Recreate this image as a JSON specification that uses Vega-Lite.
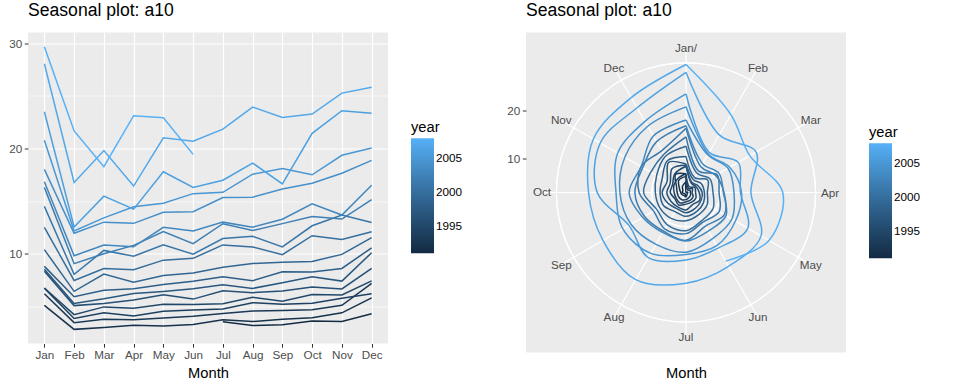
{
  "$schema": "https://vega.github.io/schema/vega-lite/v6.json",
  "autosize": {"type": "pad"},
  "padding": {"left": 8, "top": 1.5, "right": 0, "bottom": 0},
  "spacing": 43,
  "background": "white",
  "datasets": {
    "months": [
      {"m": 1, "lab": "Jan/"}, {"m": 2, "lab": "Feb"}, {"m": 3, "lab": "Mar"}, {"m": 4, "lab": "Apr"},
      {"m": 5, "lab": "May"}, {"m": 6, "lab": "Jun"}, {"m": 7, "lab": "Jul"}, {"m": 8, "lab": "Aug"},
      {"m": 9, "lab": "Sep"}, {"m": 10, "lab": "Oct"}, {"m": 11, "lab": "Nov"}, {"m": 12, "lab": "Dec"}
    ],
    "a10": [
      {"year":1991,"month":7,"value":3.527},{"year":1991,"month":8,"value":3.181},{"year":1991,"month":9,"value":3.252},{"year":1991,"month":10,"value":3.611},{"year":1991,"month":11,"value":3.566},{"year":1991,"month":12,"value":4.306},
      {"year":1992,"month":1,"value":5.088},{"year":1992,"month":2,"value":2.8145},{"year":1992,"month":3,"value":2.986},{"year":1992,"month":4,"value":3.205},{"year":1992,"month":5,"value":3.128},{"year":1992,"month":6,"value":3.271},{"year":1992,"month":7,"value":3.738},{"year":1992,"month":8,"value":3.559},{"year":1992,"month":9,"value":3.777},{"year":1992,"month":10,"value":3.924},{"year":1992,"month":11,"value":4.387},{"year":1992,"month":12,"value":5.811},
      {"year":1993,"month":1,"value":6.192},{"year":1993,"month":2,"value":3.451},{"year":1993,"month":3,"value":3.772},{"year":1993,"month":4,"value":3.734},{"year":1993,"month":5,"value":3.905},{"year":1993,"month":6,"value":4.050},{"year":1993,"month":7,"value":4.316},{"year":1993,"month":8,"value":4.562},{"year":1993,"month":9,"value":4.609},{"year":1993,"month":10,"value":4.668},{"year":1993,"month":11,"value":5.094},{"year":1993,"month":12,"value":7.180},
      {"year":1994,"month":1,"value":6.731},{"year":1994,"month":2,"value":3.841},{"year":1994,"month":3,"value":4.394},{"year":1994,"month":4,"value":4.075},{"year":1994,"month":5,"value":4.541},{"year":1994,"month":6,"value":4.646},{"year":1994,"month":7,"value":4.753},{"year":1994,"month":8,"value":5.351},{"year":1994,"month":9,"value":5.204},{"year":1994,"month":10,"value":5.302},{"year":1994,"month":11,"value":5.774},{"year":1994,"month":12,"value":6.205},
      {"year":1995,"month":1,"value":6.749},{"year":1995,"month":2,"value":4.216},{"year":1995,"month":3,"value":4.949},{"year":1995,"month":4,"value":4.823},{"year":1995,"month":5,"value":5.195},{"year":1995,"month":6,"value":5.171},{"year":1995,"month":7,"value":5.257},{"year":1995,"month":8,"value":5.855},{"year":1995,"month":9,"value":5.491},{"year":1995,"month":10,"value":6.115},{"year":1995,"month":11,"value":6.088},{"year":1995,"month":12,"value":7.417},
      {"year":1996,"month":1,"value":8.329},{"year":1996,"month":2,"value":5.070},{"year":1996,"month":3,"value":5.263},{"year":1996,"month":4,"value":5.597},{"year":1996,"month":5,"value":6.110},{"year":1996,"month":6,"value":5.689},{"year":1996,"month":7,"value":6.487},{"year":1996,"month":8,"value":6.301},{"year":1996,"month":9,"value":6.467},{"year":1996,"month":10,"value":6.829},{"year":1996,"month":11,"value":6.649},{"year":1996,"month":12,"value":8.607},
      {"year":1997,"month":1,"value":8.524},{"year":1997,"month":2,"value":5.278},{"year":1997,"month":3,"value":5.714},{"year":1997,"month":4,"value":6.215},{"year":1997,"month":5,"value":6.412},{"year":1997,"month":6,"value":6.668},{"year":1997,"month":7,"value":7.051},{"year":1997,"month":8,"value":6.705},{"year":1997,"month":9,"value":7.251},{"year":1997,"month":10,"value":7.820},{"year":1997,"month":11,"value":7.398},{"year":1997,"month":12,"value":10.096},
      {"year":1998,"month":1,"value":8.799},{"year":1998,"month":2,"value":5.918},{"year":1998,"month":3,"value":6.534},{"year":1998,"month":4,"value":6.676},{"year":1998,"month":5,"value":7.064},{"year":1998,"month":6,"value":7.383},{"year":1998,"month":7,"value":7.813},{"year":1998,"month":8,"value":7.432},{"year":1998,"month":9,"value":8.275},{"year":1998,"month":10,"value":8.260},{"year":1998,"month":11,"value":8.596},{"year":1998,"month":12,"value":10.559},
      {"year":1999,"month":1,"value":10.391},{"year":1999,"month":2,"value":6.422},{"year":1999,"month":3,"value":8.063},{"year":1999,"month":4,"value":7.298},{"year":1999,"month":5,"value":7.937},{"year":1999,"month":6,"value":8.165},{"year":1999,"month":7,"value":8.717},{"year":1999,"month":8,"value":9.071},{"year":1999,"month":9,"value":9.177},{"year":1999,"month":10,"value":9.252},{"year":1999,"month":11,"value":9.933},{"year":1999,"month":12,"value":11.533},
      {"year":2000,"month":1,"value":12.511},{"year":2000,"month":2,"value":7.457},{"year":2000,"month":3,"value":8.591},{"year":2000,"month":4,"value":8.474},{"year":2000,"month":5,"value":9.387},{"year":2000,"month":6,"value":9.560},{"year":2000,"month":7,"value":10.834},{"year":2000,"month":8,"value":10.644},{"year":2000,"month":9,"value":9.908},{"year":2000,"month":10,"value":11.710},{"year":2000,"month":11,"value":11.340},{"year":2000,"month":12,"value":12.079},
      {"year":2001,"month":1,"value":14.498},{"year":2001,"month":2,"value":8.049},{"year":2001,"month":3,"value":10.313},{"year":2001,"month":4,"value":9.753},{"year":2001,"month":5,"value":10.850},{"year":2001,"month":6,"value":9.962},{"year":2001,"month":7,"value":11.444},{"year":2001,"month":8,"value":11.659},{"year":2001,"month":9,"value":10.647},{"year":2001,"month":10,"value":12.652},{"year":2001,"month":11,"value":13.674},{"year":2001,"month":12,"value":12.966},
      {"year":2002,"month":1,"value":16.300},{"year":2002,"month":2,"value":9.053},{"year":2002,"month":3,"value":10.002},{"year":2002,"month":4,"value":10.789},{"year":2002,"month":5,"value":12.107},{"year":2002,"month":6,"value":10.954},{"year":2002,"month":7,"value":12.845},{"year":2002,"month":8,"value":12.197},{"year":2002,"month":9,"value":12.855},{"year":2002,"month":10,"value":13.542},{"year":2002,"month":11,"value":13.288},{"year":2002,"month":12,"value":15.135},
      {"year":2003,"month":1,"value":16.828},{"year":2003,"month":2,"value":9.800},{"year":2003,"month":3,"value":10.817},{"year":2003,"month":4,"value":10.654},{"year":2003,"month":5,"value":12.512},{"year":2003,"month":6,"value":12.161},{"year":2003,"month":7,"value":12.998},{"year":2003,"month":8,"value":12.517},{"year":2003,"month":9,"value":13.269},{"year":2003,"month":10,"value":14.734},{"year":2003,"month":11,"value":13.669},{"year":2003,"month":12,"value":16.504},
      {"year":2004,"month":1,"value":18.004},{"year":2004,"month":2,"value":11.938},{"year":2004,"month":3,"value":12.998},{"year":2004,"month":4,"value":12.883},{"year":2004,"month":5,"value":13.943},{"year":2004,"month":6,"value":13.989},{"year":2004,"month":7,"value":15.339},{"year":2004,"month":8,"value":15.371},{"year":2004,"month":9,"value":16.142},{"year":2004,"month":10,"value":16.686},{"year":2004,"month":11,"value":17.637},{"year":2004,"month":12,"value":18.869},
      {"year":2005,"month":1,"value":20.779},{"year":2005,"month":2,"value":12.155},{"year":2005,"month":3,"value":13.402},{"year":2005,"month":4,"value":14.459},{"year":2005,"month":5,"value":14.795},{"year":2005,"month":6,"value":15.705},{"year":2005,"month":7,"value":15.830},{"year":2005,"month":8,"value":17.555},{"year":2005,"month":9,"value":18.101},{"year":2005,"month":10,"value":17.497},{"year":2005,"month":11,"value":19.347},{"year":2005,"month":12,"value":20.031},
      {"year":2006,"month":1,"value":23.487},{"year":2006,"month":2,"value":12.537},{"year":2006,"month":3,"value":15.467},{"year":2006,"month":4,"value":14.234},{"year":2006,"month":5,"value":17.783},{"year":2006,"month":6,"value":16.292},{"year":2006,"month":7,"value":16.980},{"year":2006,"month":8,"value":18.612},{"year":2006,"month":9,"value":16.623},{"year":2006,"month":10,"value":21.430},{"year":2006,"month":11,"value":23.576},{"year":2006,"month":12,"value":23.334},
      {"year":2007,"month":1,"value":28.038},{"year":2007,"month":2,"value":16.764},{"year":2007,"month":3,"value":19.793},{"year":2007,"month":4,"value":16.427},{"year":2007,"month":5,"value":21.001},{"year":2007,"month":6,"value":20.681},{"year":2007,"month":7,"value":21.835},{"year":2007,"month":8,"value":23.930},{"year":2007,"month":9,"value":22.930},{"year":2007,"month":10,"value":23.263},{"year":2007,"month":11,"value":25.250},{"year":2007,"month":12,"value":25.806},
      {"year":2008,"month":1,"value":29.665},{"year":2008,"month":2,"value":21.654},{"year":2008,"month":3,"value":18.265},{"year":2008,"month":4,"value":23.108},{"year":2008,"month":5,"value":22.913},{"year":2008,"month":6,"value":19.432}
    ]
  },
  "hconcat": [
    {
      "width": 360,
      "height": 311,
      "title": {"text": "Seasonal plot: a10"},
      "data": {"name": "a10"},
      "mark": {"type": "line", "strokeWidth": 1.5},
      "encoding": {
        "x": {
          "field": "month", "type": "ordinal",
          "scale": {"padding": 0.55},
          "axis": {
            "title": "Month", "labelAngle": 0, "grid": true, "gridWidth": 1.2, "titlePadding": 4,
            "labelExpr": "['Jan','Feb','Mar','Apr','May','Jun','Jul','Aug','Sep','Oct','Nov','Dec'][datum.value - 1]"
          }
        },
        "y": {
          "field": "value", "type": "quantitative",
          "scale": {"domain": [1.472, 31.008], "nice": false, "zero": false},
          "axis": {
            "title": null, "values": [5, 10, 15, 20, 25, 30], "grid": true,
            "gridWidth": {"condition": {"test": "datum.value % 10 === 0", "value": 1.2}, "value": 0.6},
            "tickOpacity": {"condition": {"test": "datum.value % 10 === 0", "value": 1}, "value": 0},
            "labelExpr": "datum.value % 10 === 0 ? datum.label : ''"
          }
        },
        "color": {
          "field": "year", "type": "quantitative",
          "scale": {"domain": [1991, 2008], "range": ["#132B43", "#56B1F7"], "interpolate": "lab"},
          "legend": {"title": "year", "values": [1995, 2000, 2005], "format": "d", "orient": "none", "direction": "vertical", "legendX": 383, "legendY": 87}
        },
        "detail": {"field": "year", "type": "nominal"}
      }
    },
    {
      "width": 320,
      "height": 320,
      "title": {"text": "Seasonal plot: a10"},
      "layer": [
        {
          "data": {"values": [{"r": 10}, {"r": 20}, {"r": 33.022}]},
          "mark": {"type": "arc", "clip": true, "theta": 0, "theta2": 6.28319, "filled": false, "stroke": "white", "strokeWidth": 1.2},
          "encoding": {
            "radius": {"field": "r", "type": "quantitative", "scale": {"type": "linear", "domain": [2.8145, 36.3781], "range": [0, 160], "zero": false}}
          }
        },
        {
          "data": {"name": "months"},
          "mark": {"type": "arc", "clip": true, "filled": false, "stroke": "white", "strokeWidth": 1.2},
          "encoding": {
            "theta": {"field": "m", "type": "quantitative", "stack": null, "scale": {"type": "linear", "domain": [1, 13], "range": [0, 6.28319], "zero": false}},
            "theta2": {"field": "m"},
            "radius": {"datum": 33.022, "type": "quantitative", "scale": {"type": "linear", "domain": [2.8145, 36.3781], "range": [0, 160], "zero": false}}
          }
        },
        {
          "data": {"name": "months"},
          "mark": {"type": "text", "clip": true, "fontSize": 11.7, "color": "#4D4D4D", "align": "center", "baseline": "middle"},
          "encoding": {
            "theta": {"field": "m", "type": "quantitative", "stack": null, "scale": {"type": "linear", "domain": [1, 13], "range": [0, 6.28319], "zero": false}},
            "radius": {"datum": 33.022, "type": "quantitative", "scale": {"type": "linear", "domain": [2.8145, 36.3781], "range": [0, 160], "zero": false}},
            "text": {"field": "lab", "type": "nominal"}
          }
        },
        {
          "data": {"name": "a10"},
          "transform": [
            {"joinaggregate": [{"op": "min", "field": "value", "as": "vmin"}]},
            {"calculate": "datum.month == 1 ? [1, 13] : [datum.month]", "as": "pos"},
            {"flatten": ["pos"]},
            {"calculate": "datum.pos == 13 ? datum.year - 1 : datum.year", "as": "yr"},
            {"filter": "datum.yr >= 1991"},
            {"calculate": "(datum.pos - 1) * PI / 6", "as": "ang"},
            {"calculate": "(datum.value - datum.vmin) * sin(datum.ang)", "as": "px"},
            {"calculate": "datum.vmin + (datum.value - datum.vmin) * cos(datum.ang)", "as": "py"}
          ],
          "mark": {"type": "line", "interpolate": "catmull-rom", "strokeWidth": 1.5},
          "encoding": {
            "x": {
              "field": "px", "type": "quantitative",
              "scale": {"domain": [-33.5636, 33.5636], "nice": false, "zero": false},
              "axis": {"labels": false, "ticks": false, "grid": false, "domain": false, "title": "Month", "titlePadding": 13}
            },
            "y": {
              "field": "py", "type": "quantitative",
              "scale": {"domain": [-30.7491, 36.3781], "nice": false, "zero": false},
              "axis": {"values": [10, 20], "grid": false, "domain": false, "title": null}
            },
            "order": {"field": "pos", "type": "quantitative"},
            "detail": {"field": "yr", "type": "nominal"},
            "color": {
              "field": "yr", "type": "quantitative",
              "scale": {"domain": [1991, 2008], "range": ["#132B43", "#56B1F7"], "interpolate": "lab"},
              "legend": {"title": "year", "values": [1995, 2000, 2005], "format": "d", "orient": "none", "direction": "vertical", "legendX": 343, "legendY": 92}
            }
          }
        }
      ]
    }
  ],
  "resolve": {"scale": {"color": "independent"}, "legend": {"color": "independent"}},
  "config": {
    "font": "Liberation Sans",
    "view": {"fill": "#EBEBEB", "stroke": null},
    "title": {"anchor": "start", "fontSize": 17.6, "fontWeight": "normal", "color": "black", "baseline": "alphabetic", "offset": 13, "frame": "group"},
    "axis": {
      "labelColor": "#4D4D4D", "labelFontSize": 11.7, "tickColor": "#333333", "tickSize": 3.7, "tickWidth": 1,
      "labelPadding": 2.5, "domain": false, "gridColor": "white",
      "titleFontSize": 14.7, "titleFontWeight": "normal", "titleColor": "black"
    },
    "legend": {
      "titleFontSize": 14.7, "titleFontWeight": "normal", "titleColor": "black",
      "labelFontSize": 11.7, "labelColor": "black", "gradientLength": 115, "gradientThickness": 23,
      "gradientStrokeWidth": 0, "padding": 0, "titlePadding": 4, "labelOffset": 7, "labelOverlap": false
    }
  }
}
